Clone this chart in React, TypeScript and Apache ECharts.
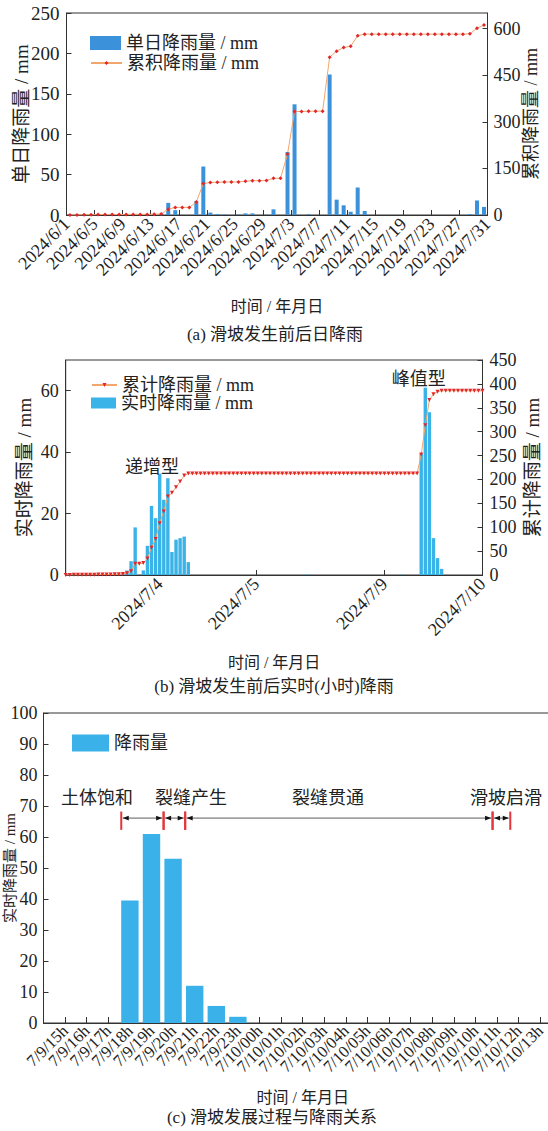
import { useEffect, useRef } from "react";
import * as echarts from "echarts";

const SERIF = "'Liberation Serif', 'Times New Roman', 'Noto Sans CJK SC', serif";
const TXT = "#222";
const AXC = "#333";

// ---------- (a) daily rainfall, 2024/6/1 .. 2024/7/30 (each day drawn mid-day: i + 0.5)
const aTickLabels = [
  "2024/6/1", "2024/6/5", "2024/6/9", "2024/6/13", "2024/6/17", "2024/6/21",
  "2024/6/25", "2024/6/29", "2024/7/3", "2024/7/7", "2024/7/11", "2024/7/15",
  "2024/7/19", "2024/7/23", "2024/7/27", "2024/7/31",
];
const aDailyRain = [
  0, 0, 0.5, 0, 1, 0, 0, 0, 0.5, 0, 0, 0, 0.5, 1,
  15, 6, 0, 0, 17, 60,
  3, 1, 0.5, 0, 0.5, 2, 2, 0, 0.5, 7, 0,
  78, 137, 0, 1, 0, 0, 174, 19, 12, 4, 34, 5,
  0, 0, 0, 0, 0, 0, 0, 0, 0, 0, 0, 0, 0, 0,
  1, 18, 10,
];
const aNames = ["单日降雨量 / mm", "累积降雨量 / mm"];

// ---------- (b) hourly rainfall (record index 0..102)
const bRecordCount = 103;
const bTickPos = [23, 46.6, 78, 102];
const bTickLabels = ["2024/7/4", "2024/7/5", "2024/7/9", "2024/7/10"];
const bRainIdx = [2, 8, 12, 14, 15, 16, 17, 19, 20, 21, 22, 23, 24, 25, 26, 27, 28, 29, 30, 59, 82, 87, 88, 89, 90, 91, 92];
const bRainVal = [0.5, 0.5, 0.5, 0.5, 1.5, 4.5, 15.5, 1.5, 9.5, 22.5, 18.5, 33, 24.5, 31.5, 7.5, 11.5, 12, 12.5, 4.2, 0.3, 0.2, 39.5, 61, 53, 12, 5.5, 2];
const bNames = ["累计降雨量 / mm", "实时降雨量 / mm"];
const bNoteText = ["递增型", "峰值型"];
const bNoteX = [21.1, 86.4];
const bNoteY = [35.2, 63.8];

// ---------- (c) hourly rainfall around sliding
const cLabels = [
  "7/9/15h", "7/9/16h", "7/9/17h", "7/9/18h", "7/9/19h", "7/9/20h", "7/9/21h", "7/9/22h", "7/9/23h",
  "7/10/00h", "7/10/01h", "7/10/02h", "7/10/03h", "7/10/04h", "7/10/05h", "7/10/06h", "7/10/07h",
  "7/10/08h", "7/10/09h", "7/10/10h", "7/10/11h", "7/10/12h", "7/10/13h",
];
const cRain = [0, 0, 0, 39.5, 61, 53, 12, 5.5, 2, 0, 0, 0, 0, 0, 0, 0, 0, 0, 0, 0, 0, 0, 0];
const cStageNames = ["土体饱和", "裂缝产生", "裂缝贯通", "滑坡启滑"];
const cStageBounds = [3.6, 5.56, 6.56, 20.79, 21.61];
const cStageTextX = [2.48, 6.83, 13.17, 21.41];
const cStageTextY = 72.7;
const cArrowY = 66.1;
const cMarkTop = 68.2;
const cMarkBottom = 62.3;

function runningTotal(arr: number[]) {
  let s = 0;
  return arr.map((v) => {
    s += v;
    return Math.round(s * 100) / 100;
  });
}

const lineStyle = { color: AXC, width: 1 };
const baseLabel = { fontFamily: SERIF, color: TXT };

function yAxisBase(grid: number, min: number, max: number, interval: number, fontSize: number, showMax: boolean) {
  return {
    type: "value",
    gridIndex: grid,
    min,
    max,
    interval,
    axisLine: { show: true, lineStyle },
    axisTick: { show: true, inside: true, length: 5, lineStyle },
    axisLabel: { ...baseLabel, fontSize, margin: 7, showMaxLabel: showMax, showMinLabel: true },
    splitLine: { show: false },
    nameLocation: "middle",
    nameRotate: 90,
    nameMoveOverlap: false,
    nameTextStyle: { ...baseLabel, fontSize: 19 },
  };
}

export default function App() {
  const ref = useRef<HTMLDivElement>(null);

  useEffect(() => {
    const chart = echarts.init(ref.current!, null, { renderer: "svg" });

    const aCum = runningTotal(aDailyRain);
    const bHourly: number[] = Array.from({ length: bRecordCount }, () => 0);
    bRainIdx.forEach((k, j) => {
      bHourly[k] = bRainVal[j];
    });
    const bCum = runningTotal(bHourly);
    const cSegs = cStageNames.map((_, i) => [cStageBounds[i], cStageBounds[i + 1], cStageTextX[i]]);

    const gridBox = {
      show: true,
      borderColor: AXC,
      borderWidth: 1,
      backgroundColor: "transparent",
      containLabel: false,
      outerBoundsMode: "none",
    };

    const aRight: any = yAxisBase(0, 0, 650, 150, 18, false);
    aRight.axisLabel.margin = 6;
    const cLeft: any = yAxisBase(2, 0, 100, 10, 18, true);
    cLeft.axisLabel.margin = 6;

    const option: any = {
      animation: false,
      textStyle: { fontFamily: SERIF },
      grid: [
        { left: 66.5, top: 13, width: 421, height: 202, ...gridBox },
        { left: 65.7, top: 360, width: 416.8, height: 215, ...gridBox },
        { left: 43.5, top: 713, width: 518.4, height: 310, ...gridBox },
      ],
      xAxis: [
        {
          type: "value",
          gridIndex: 0,
          min: 0,
          max: 60,
          interval: 4,
          axisLine: { show: true, onZero: false, lineStyle },
          axisTick: { show: true, inside: true, length: 5, lineStyle },
          axisLabel: {
            ...baseLabel,
            fontSize: 18,
            rotate: 45,
            margin: 6,
            showMinLabel: true,
            showMaxLabel: true,
            formatter: (v: number) => aTickLabels[Math.round(v / 4)] ?? "",
          },
          splitLine: { show: false },
          name: "时间 / 年月日",
          nameLocation: "middle",
          nameGap: 83,
          nameTextStyle: { ...baseLabel, fontSize: 16 },
        },
        {
          type: "value",
          gridIndex: 1,
          min: 0,
          max: bRecordCount - 1,
          axisLine: { show: true, onZero: false, lineStyle },
          axisTick: { show: true, inside: true, length: 5, lineStyle, customValues: bTickPos },
          axisLabel: {
            ...baseLabel,
            fontSize: 18,
            rotate: 45,
            margin: 6,
            customValues: bTickPos,
            formatter: (v: number) => {
              const i = bTickPos.findIndex((p) => Math.abs(p - v) < 1e-6);
              return i >= 0 ? bTickLabels[i] : "";
            },
          },
          splitLine: { show: false },
          name: "时间 / 年月日",
          nameLocation: "middle",
          nameGap: 79,
          nameTextStyle: { ...baseLabel, fontSize: 16 },
        },
        {
          type: "value",
          gridIndex: 2,
          min: 0,
          max: cLabels.length + 1,
          interval: 1,
          axisLine: { show: true, onZero: false, lineStyle },
          axisTick: { show: true, inside: true, length: 6, lineStyle },
          axisLabel: {
            ...baseLabel,
            fontSize: 16.5,
            rotate: 45,
            margin: 5,
            showMinLabel: true,
            showMaxLabel: true,
            formatter: (v: number) => cLabels[Math.round(v) - 1] ?? "",
          },
          splitLine: { show: false },
          name: "时间 / 年月日",
          nameLocation: "middle",
          nameGap: 66,
          nameTextStyle: { ...baseLabel, fontSize: 16 },
        },
      ],
      yAxis: [
        { ...yAxisBase(0, 0, 250, 50, 19, true), name: aNames[0], nameGap: 36 },
        {
          ...aRight,
          position: "right",
          name: aNames[1],
          nameGap: 34,
          nameTextStyle: { ...baseLabel, fontSize: 18 },
        },
        { ...yAxisBase(1, 0, 70, 20, 18, false), name: bNames[1], nameGap: 32 },
        { ...yAxisBase(1, 0, 450, 50, 18, true), position: "right", name: bNames[0], nameGap: 40 },
        {
          ...cLeft,
          name: "实时降雨量 / mm",
          nameGap: 26.5,
          nameTextStyle: { ...baseLabel, fontSize: 15 },
        },
      ],
      legend: [
        {
          data: [aNames[0]], left: 90, top: 34, padding: 0, itemWidth: 31, itemHeight: 14, icon: "rect",
          textStyle: { ...baseLabel, fontSize: 18 },
        },
        {
          data: [aNames[1]], left: 90, top: 54, padding: 0, itemWidth: 31, itemHeight: 5,
          textStyle: { ...baseLabel, fontSize: 18 },
        },
        {
          data: [bNames[0]], left: 91, top: 376, padding: 0, itemWidth: 25, itemHeight: 5,
          textStyle: { ...baseLabel, fontSize: 18 },
        },
        {
          data: [bNames[1]], left: 91, top: 394, padding: 0, itemWidth: 25, itemHeight: 11, icon: "rect",
          textStyle: { ...baseLabel, fontSize: 18 },
        },
        {
          data: ["降雨量"], left: 72, top: 734, padding: 0, itemWidth: 37, itemHeight: 17, icon: "rect",
          textStyle: { ...baseLabel, fontSize: 18 },
        },
      ],
      series: [
        {
          type: "bar",
          name: aNames[0],
          xAxisIndex: 0,
          yAxisIndex: 0,
          barWidth: 4,
          itemStyle: { color: "#3b92da" },
          data: aDailyRain.map((v, i) => [i + 0.5, v]),
        },
        {
          type: "line",
          name: aNames[1],
          xAxisIndex: 0,
          yAxisIndex: 1,
          symbol: "diamond",
          symbolSize: 4,
          lineStyle: { color: "#f2a66c", width: 1 },
          itemStyle: { color: "#e3262b" },
          data: aCum.map((v, i) => [i + 0.5, v]),
          z: 3,
        },
        {
          type: "bar",
          name: bNames[1],
          xAxisIndex: 1,
          yAxisIndex: 2,
          barWidth: 3.4,
          itemStyle: { color: "#39b3e8" },
          data: bHourly.map((v, k) => [k, v]),
        },
        {
          type: "line",
          name: bNames[0],
          xAxisIndex: 1,
          yAxisIndex: 3,
          symbol: "triangle",
          symbolRotate: 180,
          symbolSize: 4,
          lineStyle: { color: "#f2a66c", width: 1 },
          itemStyle: { color: "#e3262b" },
          data: bCum.map((v, k) => [k, v]),
          z: 3,
        },
        {
          type: "custom",
          name: "notesB",
          xAxisIndex: 1,
          yAxisIndex: 2,
          silent: true,
          z: 5,
          data: bNoteX.map((x, i) => [x, bNoteY[i]]),
          renderItem: (params: any, api: any) => {
            const p = api.coord([api.value(0), api.value(1)]);
            return {
              type: "text",
              x: p[0],
              y: p[1],
              style: {
                text: bNoteText[params.dataIndex],
                fill: TXT,
                fontSize: 18,
                fontFamily: SERIF,
                align: "center",
                verticalAlign: "middle",
                textAlign: "center",
                textVerticalAlign: "middle",
              },
            };
          },
        },
        {
          type: "bar",
          name: "降雨量",
          xAxisIndex: 2,
          yAxisIndex: 4,
          barWidth: 17.4,
          itemStyle: { color: "#3ab1e9" },
          data: cRain.map((v, i) => [i + 1, v]),
        },
        {
          type: "custom",
          name: "stagesC",
          xAxisIndex: 2,
          yAxisIndex: 4,
          silent: true,
          z: 5,
          data: cSegs,
          renderItem: (params: any, api: any) => {
            const from = api.value(0);
            const to = api.value(1);
            const tx = api.value(2);
            const a = api.coord([from, cArrowY]);
            const b = api.coord([to, cArrowY]);
            const fTop = api.coord([from, cMarkTop]);
            const fBot = api.coord([from, cMarkBottom]);
            const tTop = api.coord([to, cMarkTop]);
            const tBot = api.coord([to, cMarkBottom]);
            const t = api.coord([tx, cStageTextY]);
            const ah = 6;
            const aw = 2.4;
            const x1 = a[0] + 1.5;
            const x2 = b[0] - 1.5;
            const y = a[1];
            return {
              type: "group",
              children: [
                { type: "line", shape: { x1, y1: y, x2, y2: y }, style: { stroke: "#333", lineWidth: 0.8 } },
                { type: "polygon", shape: { points: [[x1, y], [x1 + ah, y - aw], [x1 + ah, y + aw]] }, style: { fill: "#111" } },
                { type: "polygon", shape: { points: [[x2, y], [x2 - ah, y - aw], [x2 - ah, y + aw]] }, style: { fill: "#111" } },
                { type: "line", shape: { x1: fTop[0], y1: fTop[1], x2: fBot[0], y2: fBot[1] }, style: { stroke: "#e2363a", lineWidth: 2 } },
                { type: "line", shape: { x1: tTop[0], y1: tTop[1], x2: tBot[0], y2: tBot[1] }, style: { stroke: "#e2363a", lineWidth: 2 } },
                {
                  type: "text",
                  x: t[0],
                  y: t[1],
                  style: {
                    text: cStageNames[params.dataIndex],
                    fill: TXT,
                    fontSize: 18,
                    fontFamily: SERIF,
                    align: "center",
                    verticalAlign: "middle",
                    textAlign: "center",
                    textVerticalAlign: "middle",
                  },
                },
              ],
            };
          },
        },
      ],
      graphic: [
        {
          type: "text",
          x: 275,
          y: 334,
          style: { text: "(a) 滑坡发生前后日降雨", fill: TXT, fontSize: 17, fontFamily: SERIF, align: "center", verticalAlign: "middle", textAlign: "center", textVerticalAlign: "middle" },
        },
        {
          type: "text",
          x: 274,
          y: 686.5,
          style: { text: "(b) 滑坡发生前后实时(小时)降雨", fill: TXT, fontSize: 17, fontFamily: SERIF, align: "center", verticalAlign: "middle", textAlign: "center", textVerticalAlign: "middle" },
        },
        {
          type: "text",
          x: 272,
          y: 1117.5,
          style: { text: "(c) 滑坡发展过程与降雨关系", fill: TXT, fontSize: 17, fontFamily: SERIF, align: "center", verticalAlign: "middle", textAlign: "center", textVerticalAlign: "middle" },
        },
      ],
    };

    chart.setOption(option);
    return () => chart.dispose();
  }, []);

  return (
    <div
      ref={ref}
      style={{ position: "absolute", left: 0, top: 0, width: 548, height: 1131, background: "#fff" }}
    />
  );
}
